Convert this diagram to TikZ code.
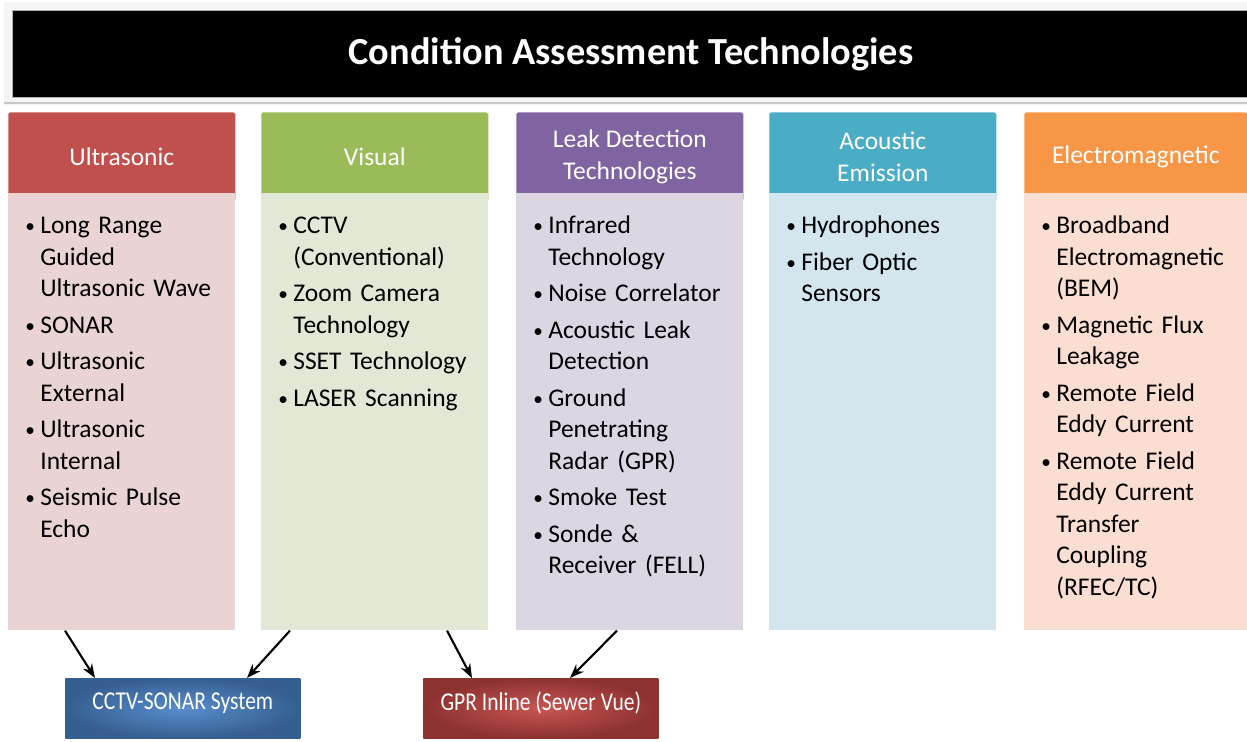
\documentclass[tikz,border=0pt]{standalone}
\usepackage{fontspec}
\setmainfont{Carlito}
\newfontfamily\narrowfont[FakeStretch=0.84]{Carlito}
\usetikzlibrary{arrows.meta, calc}

% header / body colours of the five columns
\definecolor{ultrahead}{HTML}{C0504D}
\definecolor{ultrabody}{HTML}{EAD4D3}
\definecolor{vishead}{HTML}{9BBB59}
\definecolor{visbody}{HTML}{E1E8D5}
\definecolor{leakhead}{HTML}{8064A2}
\definecolor{leakbody}{HTML}{DCD6E3}
\definecolor{acoushead}{HTML}{4BACC6}
\definecolor{acousbody}{HTML}{D3E6EE}
\definecolor{emhead}{HTML}{F79646}
\definecolor{embody}{HTML}{FBDED2}
% the two combined systems
\definecolor{sonarin}{HTML}{588DCC}
\definecolor{sonarout}{HTML}{365F91}
\definecolor{gprin}{HTML}{C85652}
\definecolor{gprout}{HTML}{8C3230}

\newcommand{\bodyfont}{\fontsize{14.5}{17.9}\selectfont\setlength{\parskip}{2.9pt}}
% one bullet point; \newline keeps the hanging indent (\\ would end the paragraph)
\newcommand{\itm}[1]{\par\hangindent=0.3cm\hangafter=1\noindent
    \makebox[0.3cm][l]{\raisebox{0.6pt}{\fontsize{11}{11}\selectfont\textbullet}}#1}

\begin{document}
\begin{tikzpicture}[x=0.02cm, y=-0.02cm,
    head/.style={anchor=north west, fill=#1, rounded corners=1pt, inner sep=0pt,
        minimum width=4.54cm, minimum height=1.78cm, text=white, align=center, font=\bodyfont},
    panel/.style={anchor=north west, fill=#1, inner sep=0pt,
        minimum width=4.54cm, minimum height=8.74cm},
    items/.style={anchor=north west, inner sep=0pt, text width=4.2cm, align=left, font=\bodyfont},
    result/.style={anchor=north west, inner sep=0pt, minimum width=4.7cm, minimum height=1.2cm,
        text=white, font=\narrowfont\fontsize{14.6}{16}\selectfont},
    link/.style={-{Stealth[length=8pt, width=6pt]}, line width=1.2pt}]
    \useasboundingbox (0,0) rectangle (1247,741);

    % title bar
    \fill[gray!8] (4,2) rectangle (1247,105);
    \draw[gray!45, line width=1.5pt] (4,103) -- (1247,103);
    \node (titlebar) at (629.5,53.5) [fill=black, draw=gray!60, minimum width=24.7cm, minimum height=1.74cm] {};
    \node (title) at (631,54) [text=white, font=\fontsize{21.8}{26}\selectfont\bfseries] {Condition Assessment Technologies};

    % columns (header first, the panel covers its lower part)
    \node (uhead) at (8,112) [head=ultrahead] {Ultrasonic};
    \node (ubody) at (8,193) [panel=ultrabody] {};
    \node (utxt) at (25,197) [items] {\itm{Long Range\newline Guided\newline Ultrasonic Wave}\itm{SONAR}\itm{Ultrasonic\newline External}\itm{Ultrasonic\newline Internal}\itm{Seismic Pulse\newline Echo}\par};

    \node (vhead) at (261,112) [head=vishead] {Visual};
    \node (vbody) at (261,193) [panel=visbody] {};
    \node (vtxt) at (278,197) [items] {\itm{CCTV\newline (Conventional)}\itm{Zoom Camera\newline Technology}\itm{SSET Technology}\itm{LASER Scanning}\par};

    \node (lhead) at (516,112) [head=leakhead] {Leak Detection\\Technologies};
    \node (lbody) at (516,193) [panel=leakbody] {};
    \node (ltxt) at (533,197) [items] {\itm{Infrared\newline Technology}\itm{Noise Correlator}\itm{Acoustic Leak\newline Detection}\itm{Ground\newline Penetrating\newline Radar (GPR)}\itm{Smoke Test}\itm{Sonde \&\newline Receiver (FELL)}\par};

    \node (ahead) at (769,112) [head=acoushead] {Acoustic\\Emission};
    \node (abody) at (769,193) [panel=acousbody] {};
    \node (atxt) at (786,197) [items] {\itm{Hydrophones}\itm{Fiber Optic\newline Sensors}\par};

    \node (ehead) at (1024,112) [head=emhead, minimum width=4.46cm] {Electromagnetic};
    \node (ebody) at (1024,193) [panel=embody, minimum width=4.46cm] {};
    \node (etxt) at (1041,197) [items] {\itm{Broadband\newline Electromagnetic\newline (BEM)}\itm{Magnetic Flux\newline Leakage}\itm{Remote Field\newline Eddy Current}\itm{Remote Field\newline Eddy Current\newline Transfer\newline Coupling\newline (RFEC/TC)}\par};

    % combined systems
    \node (sonar) at (65,678) [result, inner color=sonarin, outer color=sonarout] {\raisebox{8pt}{CCTV-SONAR System}};
    \node (gpr) at (423,678) [result, inner color=gprin, outer color=gprout] {\raisebox{8pt}{GPR Inline (Sewer Vue)}};

    \draw[link] ($(ubody.south west)+(57,0)$) -- ($(sonar.north west)+(30,0)$);
    \draw[link] ($(vbody.south west)+(29,0)$) -- ($(sonar.north west)+(182,0)$);
    \draw[link] ($(vbody.south west)+(186,0)$) -- ($(gpr.north west)+(49,0)$);
    \draw[link] ($(lbody.south west)+(101,0)$) -- ($(gpr.north west)+(147,0)$);
\end{tikzpicture}
\end{document}
